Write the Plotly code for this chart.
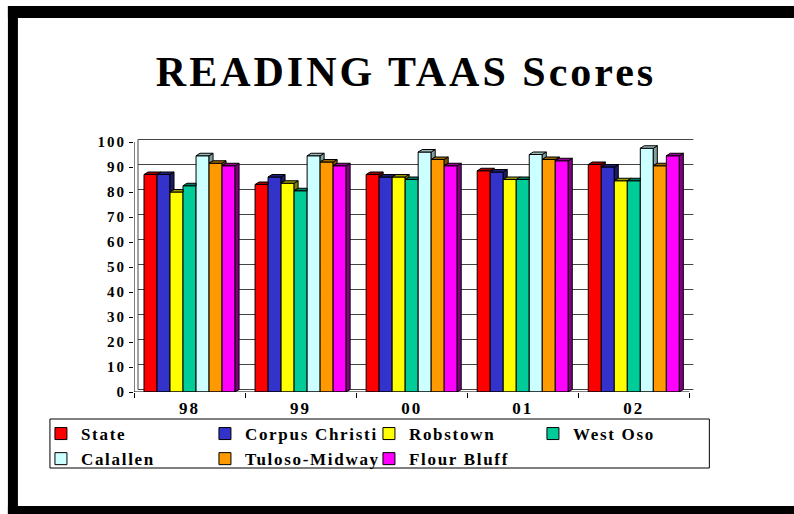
import plotly.graph_objects as go

# ---------------- data ----------------
years = ["98", "99", "00", "01", "02"]
series_names = ["State", "Corpus Christi", "Robstown", "West Oso",
                "Calallen", "Tuloso-Midway", "Flour Bluff"]
state = [87, 83, 87, 88.5, 91]
corpus_christi = [87, 86, 86, 88, 90]
robstown = [80, 83.5, 86, 85, 84.5]
west_oso = [82.5, 80.5, 85, 85, 84.5]
calallen = [94.5, 94.5, 96, 95, 97.5]
tuloso_midway = [91.5, 92, 93, 93, 90.5]
flour_bluff = [90.5, 90.5, 90.5, 92.5, 94.5]
y_tick_values = [0, 10, 20, 30, 40, 50, 60, 70, 80, 90, 100]

series_values = [state, corpus_christi, robstown, west_oso,
                 calallen, tuloso_midway, flour_bluff]

# ---------------- style ----------------
front_colors = ["#FF0000", "#3333CC", "#FFFF00", "#00CC99",
                "#CCFFFF", "#FF9900", "#FF00FF"]
top_colors = ["#990000", "#1F1F7A", "#999900", "#007A5C",
              "#99B8B8", "#996600", "#990099"]
side_colors = ["#800000", "#1A1A66", "#808000", "#006650",
               "#80A0A0", "#805500", "#800080"]
FONT = "Liberation Serif, Times New Roman, serif"


def spaced(text, px):
    return '<span style="letter-spacing:%spx">%s</span>' % (px, text)


W, H = 794, 514
PX_CAT = 111.0      # pixels per category
PX_UNIT = 2.5       # pixels per value unit
X0_PX, Y0_PX = 134, 392   # front axis origin (pixels)
n_cat = len(years)
n_ser = len(series_names)
dx = 4 / PX_CAT     # 3D depth, category units
dy = 2.5 / PX_UNIT  # 3D depth, value units
x_rng = [-0.5, n_cat - 0.5 + 0.06]
y_rng = [0, 102]
L = X0_PX
plot_w = (x_rng[1] - x_rng[0]) * PX_CAT
plot_h = (y_rng[1] - y_rng[0]) * PX_UNIT
R = W - L - plot_w
B = H - Y0_PX
T = H - B - plot_h
group_frac = 0.82
bw = group_frac / n_ser


def px_x(px):
    return (px - L) / plot_w


def px_y(py):
    return (H - B - py) / plot_h


fig = go.Figure()

# front faces (bars)
for k, (name, vals) in enumerate(zip(series_names, series_values)):
    xs = [i + (k - (n_ser - 1) / 2) * bw for i in range(n_cat)]
    fig.add_trace(go.Bar(
        x=xs, y=vals, width=bw, name=spaced(name, 1.7),
        marker=dict(color=front_colors[k], line=dict(color="black", width=1)),
        hoverinfo="skip",
    ))

# 3D top and side faces, derived from the data
for k, vals in enumerate(series_values):
    tx, ty, sx, sy = [], [], [], []
    for i, v in enumerate(vals):
        c = i + (k - (n_ser - 1) / 2) * bw
        x0, x1 = c - bw / 2, c + bw / 2
        nxt = series_values[k + 1][i] if k + 1 < n_ser else 0
        if nxt > v:
            tx += [x0, x0 + dx, x1, x1, x0, None]
        else:
            tx += [x0, x0 + dx, x1 + dx, x1, x0, None]
        ty += [v, v + dy, v + dy, v, v, None]
        if v > nxt:
            sx += [x1, x1 + dx, x1 + dx, x1, x1, None]
            sy += [nxt, nxt + dy, v + dy, v, nxt, None]
    fig.add_trace(go.Scatter(x=sx, y=sy, mode="lines", fill="toself",
                             fillcolor=side_colors[k],
                             line=dict(color="black", width=1),
                             showlegend=False, hoverinfo="skip"))
    fig.add_trace(go.Scatter(x=tx, y=ty, mode="lines", fill="toself",
                             fillcolor=top_colors[k],
                             line=dict(color="black", width=1),
                             showlegend=False, hoverinfo="skip"))

boundaries = [i - 0.5 for i in range(n_cat + 1)]

shapes = []
# back-wall gridlines (shifted by the 3D depth)
for v in y_tick_values:
    shapes.append(dict(type="line", xref="x", yref="y",
                       x0=-0.5 + dx, x1=n_cat - 0.5 + dx, y0=v + dy, y1=v + dy,
                       line=dict(color="#444444", width=1), layer="below"))
# left edge of back wall
shapes.append(dict(type="line", xref="x", yref="y",
                   x0=-0.5 + dx, x1=-0.5 + dx, y0=dy, y1=100 + dy,
                   line=dict(color="#444444", width=1), layer="below"))
# front axis lines
shapes.append(dict(type="line", xref="x", yref="y",
                   x0=-0.5, x1=-0.5, y0=0, y1=100,
                   line=dict(color="black", width=1), layer="above"))
shapes.append(dict(type="line", xref="x", yref="y",
                   x0=-0.5, x1=n_cat - 0.5, y0=0, y1=0,
                   line=dict(color="black", width=1), layer="above"))
# legend box
shapes.append(dict(type="rect", xref="paper", yref="paper",
                   x0=px_x(50), x1=px_x(709), y0=px_y(468), y1=px_y(419),
                   line=dict(color="black", width=1), fillcolor="rgba(0,0,0,0)"))
# black frame bands
for (a, b, c, d) in [(8, 800, 6, 18), (8, 18, 6, 520), (8, 800, 506, 520)]:
    shapes.append(dict(type="rect", xref="paper", yref="paper",
                       x0=px_x(a), x1=px_x(b), y0=px_y(d), y1=px_y(c),
                       fillcolor="black", line=dict(width=0), layer="above"))

fig.update_layout(
    width=W, height=H,
    margin=dict(l=L, r=R, t=T, b=B, autoexpand=False),
    paper_bgcolor="white", plot_bgcolor="white",
    barmode="overlay",
    showlegend=True,
    font=dict(family=FONT, color="black"),
    title=dict(text=spaced("<b>READING TAAS Scores</b>", 3),
               font=dict(family=FONT, size=42, color="black"),
               x=406 / W, xanchor="center", xref="container",
               y=1 - 71 / H, yanchor="middle", yref="container"),
    xaxis=dict(range=x_rng,
               tickvals=list(range(n_cat)),
               ticktext=[spaced(y, 2) for y in years],
               ticks="", showgrid=False, zeroline=False, showline=False,
               tickfont=dict(family=FONT, size=17, color="black", weight="bold"),
               ticklabelstandoff=4,
               minor=dict(tickvals=boundaries, ticks="outside", ticklen=5,
                          tickcolor="black", showgrid=False)),
    yaxis=dict(range=y_rng, tickvals=y_tick_values,
               ticktext=[spaced(str(v), 2) for v in y_tick_values],
               ticks="outside", ticklen=4, tickcolor="black",
               showline=False, showgrid=False, zeroline=False,
               tickfont=dict(family=FONT, size=15, color="black", weight="bold")),
    legend=dict(orientation="h", x=px_x(41), y=px_y(416),
                xanchor="left", yanchor="top",
                borderwidth=0, bgcolor="rgba(0,0,0,0)",
                entrywidth=119, entrywidthmode="pixels",
                font=dict(family=FONT, size=17, color="black", weight="bold"),
                traceorder="normal", tracegroupgap=0),
    shapes=shapes,
)

fig.write_html("out.html", config={"displayModeBar": False},
               post_script="document.body.style.margin='0';")
